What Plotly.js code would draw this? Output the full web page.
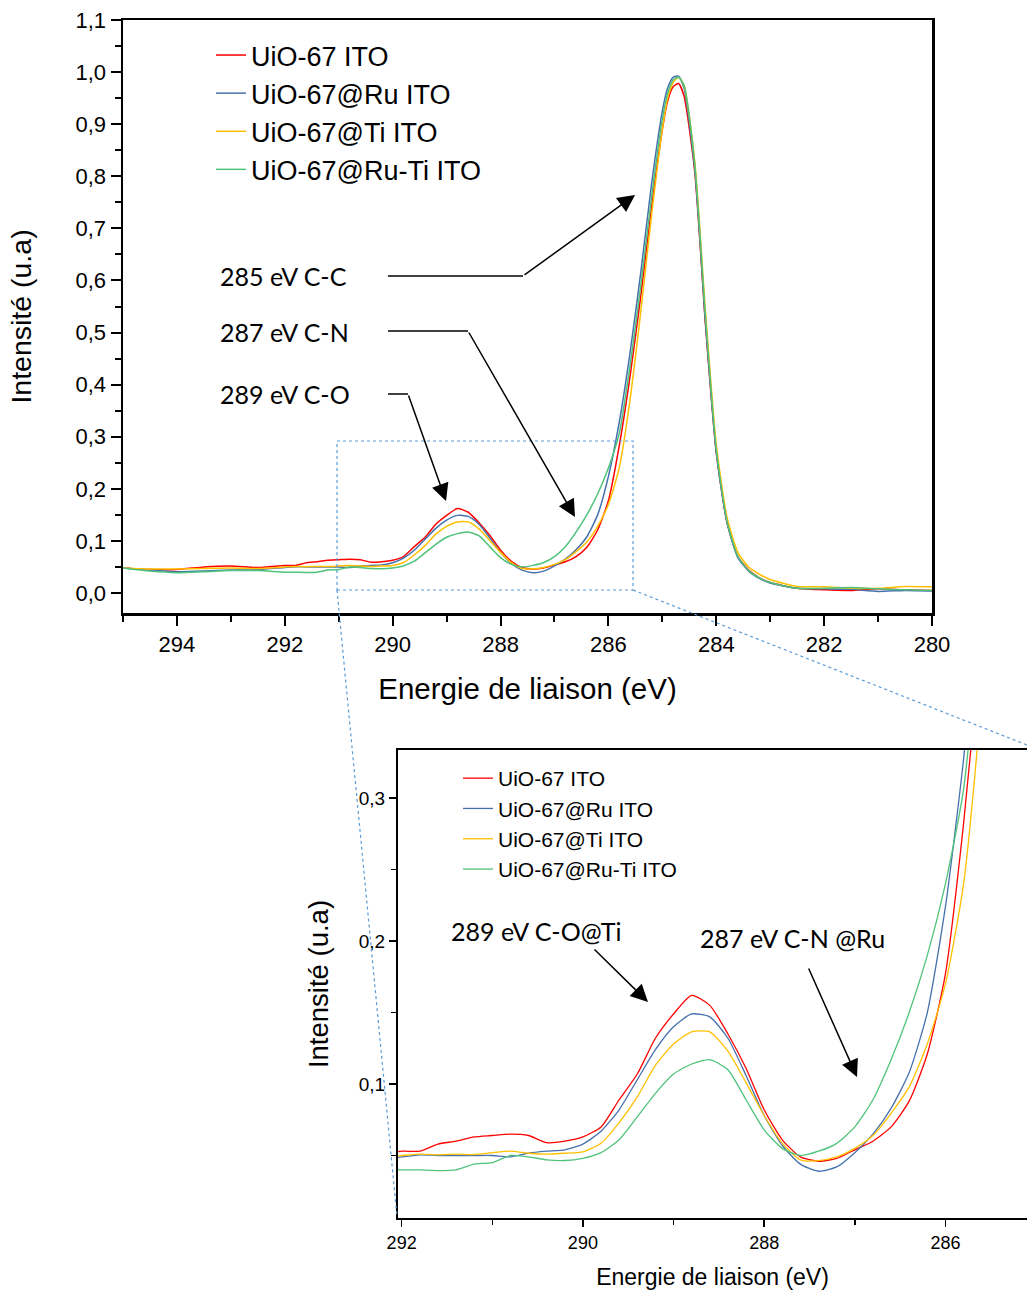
<!DOCTYPE html>
<html>
<head>
<meta charset="utf-8">
<script src="https://cdn.plot.ly/plotly-3.0.1.min.js"></script>
<style>html,body{margin:0;padding:0;background:#fff;}#chart{width:1027px;height:1292px;}</style>
</head>
<body>
<div id="chart"></div>
<script>
// Binding energy (eV)
const energy = [295, 294.5, 294, 293.5, 293, 292.5, 292, 291.8, 291.6, 291.4, 291.2, 291.0, 290.8, 290.6, 290.4, 290.2, 290.0, 289.8, 289.6, 289.4, 289.2, 289.0, 288.8, 288.6, 288.4, 288.2, 288.0, 287.8, 287.6, 287.4, 287.2, 287.0, 286.8, 286.6, 286.4, 286.2, 286.0, 285.8, 285.6, 285.4, 285.2, 285.0, 284.9, 284.8, 284.7, 284.6, 284.4, 284.2, 284.0, 283.8, 283.6, 283.4, 283.2, 283.0, 282.5, 282.0, 281.5, 281.0, 280.5, 280.0];

const uio67 = [0.048, 0.045, 0.045, 0.050, 0.052, 0.049, 0.053, 0.053, 0.058, 0.060, 0.063, 0.064, 0.065, 0.064, 0.059, 0.060, 0.063, 0.070, 0.089, 0.107, 0.132, 0.149, 0.162, 0.155, 0.135, 0.111, 0.082, 0.061, 0.049, 0.046, 0.048, 0.054, 0.060, 0.070, 0.088, 0.121, 0.177, 0.282, 0.415, 0.570, 0.740, 0.890, 0.945, 0.972, 0.978, 0.955, 0.810, 0.515, 0.270, 0.135, 0.070, 0.044, 0.029, 0.020, 0.009, 0.006, 0.005, 0.008, 0.006, 0.005];

const uio67Ru = [0.048, 0.044, 0.041, 0.042, 0.044, 0.045, 0.049, 0.0505, 0.050, 0.050, 0.050, 0.050, 0.049, 0.0516, 0.053, 0.054, 0.058, 0.067, 0.082, 0.103, 0.124, 0.140, 0.149, 0.147, 0.132, 0.106, 0.078, 0.057, 0.044, 0.039, 0.042, 0.052, 0.065, 0.083, 0.108, 0.150, 0.224, 0.327, 0.460, 0.615, 0.785, 0.925, 0.970, 0.990, 0.992, 0.970, 0.815, 0.520, 0.270, 0.135, 0.068, 0.042, 0.028, 0.019, 0.009, 0.008, 0.007, 0.003, 0.005, 0.004];

const uio67Ti = [0.048, 0.046, 0.046, 0.047, 0.048, 0.047, 0.050, 0.051, 0.0505, 0.051, 0.0507, 0.052, 0.053, 0.0516, 0.051, 0.0516, 0.0526, 0.0586, 0.073, 0.091, 0.113, 0.128, 0.1365, 0.1365, 0.123, 0.101, 0.078, 0.0585, 0.047, 0.0464, 0.049, 0.055, 0.064, 0.0795, 0.098, 0.128, 0.170, 0.240, 0.370, 0.540, 0.725, 0.890, 0.950, 0.980, 0.990, 0.975, 0.830, 0.540, 0.285, 0.145, 0.078, 0.050, 0.036, 0.026, 0.0125, 0.012, 0.009, 0.009, 0.0125, 0.012];

const uio67RuTi = [0.048, 0.042, 0.039, 0.041, 0.043, 0.043, 0.040, 0.040, 0.0395, 0.040, 0.044, 0.045, 0.050, 0.049, 0.047, 0.0465, 0.048, 0.052, 0.061, 0.077, 0.0935, 0.107, 0.114, 0.117, 0.110, 0.089, 0.068, 0.055, 0.050, 0.053, 0.0585, 0.070, 0.089, 0.117, 0.150, 0.190, 0.240, 0.306, 0.435, 0.590, 0.760, 0.910, 0.960, 0.985, 0.990, 0.975, 0.825, 0.530, 0.275, 0.137, 0.070, 0.043, 0.029, 0.020, 0.009, 0.009, 0.0105, 0.008, 0.006, 0.005];

const seriesNames = ["UiO-67 ITO", "UiO-67@Ru ITO", "UiO-67@Ti ITO", "UiO-67@Ru-Ti ITO"];
const seriesValues = [uio67, uio67Ru, uio67Ti, uio67RuTi];
const seriesColors = ["#ff0000", "#4670ad", "#ffc000", "#4fc27b"];

const W = 1027, H = 1292;
const px = v => v / W;
const py = v => 1 - v / H;

const traces = [];
seriesValues.forEach((vals, i) => {
  traces.push({x: energy, y: vals, name: seriesNames[i], type: 'scatter', mode: 'lines',
    line: {color: seriesColors[i], width: 1.5, shape: 'spline', smoothing: 0.6},
    xaxis: 'x', yaxis: 'y', legend: 'legend'});
});
seriesValues.forEach((vals, i) => {
  traces.push({x: energy, y: vals, name: seriesNames[i], type: 'scatter', mode: 'lines',
    line: {color: seriesColors[i], width: 1.3, shape: 'spline', smoothing: 0.6},
    xaxis: 'x2', yaxis: 'y2', legend: 'legend2'});
});

const FONT = '"Liberation Sans", Arial, sans-serif';
const ANNF = 'Lato, Carlito, sans-serif';

const shapes = [
  // zoom box and connectors
  {type: 'rect', xref: 'paper', yref: 'paper', x0: px(337), x1: px(633), y0: py(590), y1: py(441),
   line: {color: '#5b9bd5', width: 1.2, dash: 'dot'}},
  {type: 'line', xref: 'paper', yref: 'paper', x0: px(337), y0: py(590), x1: px(397), y1: py(1217),
   line: {color: '#5b9bd5', width: 1.2, dash: 'dot'}},
  {type: 'line', xref: 'paper', yref: 'paper', x0: px(633), y0: py(590), x1: px(1027), y1: py(745),
   line: {color: '#5b9bd5', width: 1.2, dash: 'dot'}},
  // leader lines of main annotations
  {type: 'line', xref: 'paper', yref: 'paper', x0: px(388), y0: py(276), x1: px(523), y1: py(276), line: {color: '#000', width: 1.5}},
  {type: 'line', xref: 'paper', yref: 'paper', x0: px(388), y0: py(331), x1: px(468), y1: py(331), line: {color: '#000', width: 1.5}},
  {type: 'line', xref: 'paper', yref: 'paper', x0: px(388), y0: py(394), x1: px(408), y1: py(394), line: {color: '#000', width: 1.5}}
];

function arrow(tipX, tipY, tailX, tailY) {
  return {xref: 'paper', yref: 'paper', x: px(tipX), y: py(tipY), text: '', showarrow: true,
    ax: tailX - tipX, ay: tailY - tipY, arrowhead: 2, arrowsize: 2.3, arrowwidth: 1.5, arrowcolor: '#000', standoff: 0};
}
function label(x, y, t) {
  return {xref: 'paper', yref: 'paper', x: px(x), y: py(y), xanchor: 'left', yanchor: 'middle',
    text: t, showarrow: false, font: {family: ANNF, size: 25, color: '#000'}};
}

const annotations = [
  label(218, 276, '285 eV C-C'),
  label(218, 332, '287 eV C-N'),
  label(218, 394, '289 eV C-O'),
  label(449, 931, '289 eV C-O@Ti'),
  label(698, 938, '287 eV C-N @Ru'),
  arrow(635, 195, 523, 276),
  arrow(575, 517, 468, 331),
  arrow(446, 501, 408, 394),
  arrow(648, 1002, 593, 948),
  arrow(857, 1077, 808, 967)
];

const layout = {
  width: W, height: H,
  margin: {l: 0, r: 0, t: 0, b: 0},
  paper_bgcolor: '#fff', plot_bgcolor: '#fff',
  separators: ', ',
  font: {family: FONT, color: '#000'},
  xaxis: {
    domain: [px(123), px(932)], range: [295, 280], anchor: 'y',
    tick0: 280, dtick: 2, tickformat: 'd', ticks: 'outside', ticklen: 10, tickwidth: 2, tickcolor: '#000',
    minor: {dtick: 1, ticks: 'outside', ticklen: 6, tickwidth: 2, tickcolor: '#000'},
    showline: true, linewidth: 2.5, linecolor: '#000', mirror: true, showgrid: false, zeroline: false,
    tickfont: {size: 22, family: FONT},
    title: {text: 'Energie de liaison (eV)', font: {size: 29.5, family: FONT}, standoff: 23}
  },
  yaxis: {
    domain: [py(613), py(20)], range: [-0.0384, 1.1], anchor: 'x',
    tick0: 0, dtick: 0.1, tickformat: '.1f', ticks: 'outside', ticklen: 10, tickwidth: 2, tickcolor: '#000',
    minor: {dtick: 0.05, ticks: 'outside', ticklen: 6, tickwidth: 2, tickcolor: '#000'},
    showline: true, linewidth: 2.5, linecolor: '#000', mirror: true, showgrid: false, zeroline: false,
    tickfont: {size: 22, family: FONT},
    title: {text: 'Intensité (u.a)', font: {size: 28.5, family: FONT}, standoff: 36}
  },
  xaxis2: {
    domain: [px(398), 1], range: [292.04, 285.1], anchor: 'y2',
    tick0: 286, dtick: 2, tickformat: 'd', ticks: 'outside', ticklen: 7, tickwidth: 1.5, tickcolor: '#000',
    minor: {dtick: 1, ticks: 'outside', ticklen: 5, tickwidth: 1.5, tickcolor: '#000'},
    showline: true, linewidth: 2, linecolor: '#000', mirror: true, showgrid: false, zeroline: false,
    tickfont: {size: 18, family: FONT},
    title: {text: 'Energie de liaison (eV)', font: {size: 23, family: FONT}, standoff: 17}
  },
  yaxis2: {
    domain: [py(1218), py(750)], range: [0.0063, 0.3336], anchor: 'x2',
    tick0: 0, dtick: 0.1, tickformat: '.1f', ticks: 'outside', ticklen: 7, tickwidth: 1.5, tickcolor: '#000',
    minor: {dtick: 0.05, ticks: 'outside', ticklen: 5, tickwidth: 1.5, tickcolor: '#000'},
    showline: true, linewidth: 2, linecolor: '#000', mirror: false, showgrid: false, zeroline: false,
    tickfont: {size: 19, family: FONT},
    title: {text: 'Intensité (u.a)', font: {size: 27.5, family: FONT}, standoff: 22}
  },
  legend: {
    x: px(211), y: py(31), xanchor: 'left', yanchor: 'top',
    font: {size: 27, family: FONT}, bgcolor: 'rgba(0,0,0,0)', borderwidth: 0, tracegroupgap: 0
  },
  legend2: {
    x: px(458), y: py(758), xanchor: 'left', yanchor: 'top',
    font: {size: 21, family: FONT}, bgcolor: 'rgba(0,0,0,0)', borderwidth: 0, tracegroupgap: 0
  },
  shapes: shapes,
  annotations: annotations,
  showlegend: true
};

Plotly.newPlot('chart', traces, layout, {displayModeBar: false, staticPlot: true});
</script>
</body>
</html>
